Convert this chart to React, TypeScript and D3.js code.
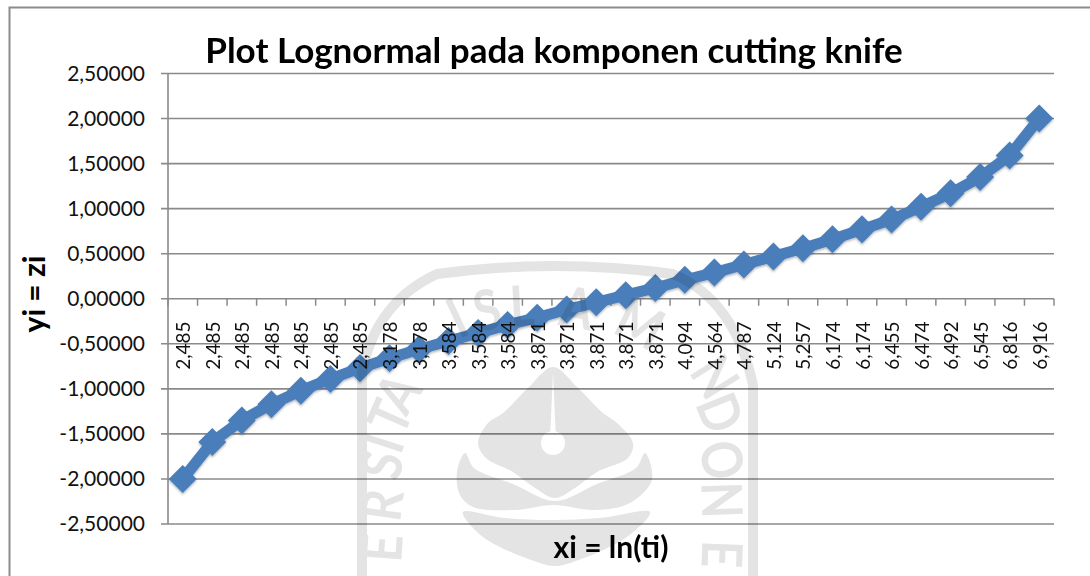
import React from "react";
import * as d3 from "d3";

const xLabels = ["2,485","2,485","2,485","2,485","2,485","2,485","2,485","3,178","3,178","3,584","3,584","3,584","3,871","3,871","3,871","3,871","3,871","4,094","4,564","4,787","5,124","5,257","6,174","6,174","6,455","6,474","6,492","6,545","6,816","6,916"];
const yValues = [-2.0,-1.59,-1.35,-1.17,-1.02,-0.89,-0.77,-0.66,-0.56,-0.47,-0.38,-0.29,-0.21,-0.12,-0.04,0.04,0.12,0.21,0.29,0.38,0.47,0.56,0.66,0.77,0.88,1.02,1.17,1.35,1.59,2.0];
const yTicks = [2.5,2,1.5,1,0.5,0,-0.5,-1,-1.5,-2,-2.5];
const titleText = "Plot Lognormal pada komponen cutting knife";
const xTitle = "xi = ln(ti)";
const yTitle = "yi = zi";

const FONT = "Lato, 'Open Sans', sans-serif";
const BLUE = "#4a7ebb";
const GRID = "#8a8a8a";
const WM = "#e4e4e4";

// Faint background logo: letter, centre x, centre y, rotation
const wmLetters: [string, number, number, number][] = [
  ["E",382,548,-86],["R",382,505,-82],["S",382,465,-78],["I",384,443,-72],["T",390,417,-66],["A",398,393,-58],
  ["I",457,318,-25],["S",487,310,-14],["L",522,306,-3],["A",577,308,10],["M",640,324,26],
  ["N",715,377,58],["D",720,413,68],["O",722,460,80],["N",722,500,88],["E",722,554,92],
];
const emblem: [number, number][] = [[553,367],[578,388],[603,413],[617,423],[633,443],[628,458],[597,472],[575,488],[555,498],[535,488],[513,472],[486,458],[478,443],[488,423],[503,413],[528,388]];
const crescent: [number, number][] = [[465,453],[457,472],[460,495],[473,507],[515,510],[553,505],[595,510],[630,503],[652,480],[645,453],[636,468],[597,484],[555,501],[513,484],[474,468]];
const lowerBand: [number, number][] = [[463,512],[483,537],[537,562],[555,566],[573,562],[627,537],[650,512],[600,518],[553,520],[505,518]];

export default function App() {
  const left = 168, right = 1054;
  const y = d3.scaleLinear().domain([-2.5, 2.5]).range([524, 73.5]);
  const x = d3.scaleBand<number>().domain(d3.range(xLabels.length)).range([left, right]);
  const cx = (i: number) => (x(i) as number) + x.bandwidth() / 2;
  const line = d3.line<number>().x((_, i) => cx(i)).y((d) => y(d));
  const blob = d3.line().curve(d3.curveCatmullRomClosed.alpha(0.5));
  const fmt = (v: number) => v.toFixed(5).replace(".", ",");
  const y0 = y(0);
  const ticksX = d3.range(xLabels.length + 1).map((i) => left + i * x.step());
  const diamond = d3.symbol(d3.symbolDiamond2, 500)() ?? "";
  return (
    <svg width={1090} height={576} style={{ position: "absolute", left: 0, top: 0, background: "#fff" }} fontFamily={FONT}>
      <defs>
        <filter id="sh" x="-30%" y="-30%" width="160%" height="160%">
          <feDropShadow dx="0" dy="1.5" stdDeviation="1.2" floodColor="#000" floodOpacity="0.3" />
        </filter>
      </defs>
      <rect x={9.5} y={7.5} width={1200} height={700} fill="#fff" stroke="#8c8c8c" strokeWidth={2} />

      {yTicks.map((t) => (
        <g key={t}>
          <line x1={161} x2={right} y1={y(t)} y2={y(t)} stroke={GRID} strokeWidth={1.6} />
          <text x={145} y={y(t) + 7} textAnchor="end" fontSize={21} fill="#111">{fmt(t)}</text>
        </g>
      ))}
      <line x1={left} x2={left} y1={y(2.5)} y2={y(-2.5)} stroke={GRID} strokeWidth={1.6} />
      {ticksX.map((tx, i) => (
        <line key={i} x1={tx} x2={tx} y1={y0} y2={y0 + 7} stroke={GRID} strokeWidth={1.5} />
      ))}
      <g filter="url(#sh)">
        <path d={line(yValues) ?? ""} fill="none" stroke={BLUE} strokeWidth={11} strokeLinejoin="round" />
        {yValues.map((v, i) => (
          <path key={i} d={diamond} transform={`translate(${cx(i)},${y(v)})`} fill={BLUE} />
        ))}
      </g>
      {xLabels.map((l, i) => (
        <text key={i} transform={`translate(${cx(i) + 7.5},${y0 + 71}) rotate(-90)`} fontSize={19} fill="#111">{l}</text>
      ))}
      <text x={554} y={63} textAnchor="middle" fontSize={35} fontWeight={700} fill="#000">{titleText}</text>
      <text x={611} y={558} textAnchor="middle" fontSize={30} fontWeight={700} fill="#000">{xTitle}</text>
      <text transform="translate(45,294) rotate(-90)" textAnchor="middle" fontSize={30} fontWeight={700} fill="#000">{yTitle}</text>

      <g style={{ mixBlendMode: "multiply" }}>
        <path d="M 362 576 L 362 372 Q 376 302 437 274 Q 555 258 673 274 Q 735 300 753 385 L 753 576" fill="none" stroke={WM} strokeWidth={10} />
        <path d={blob(emblem) ?? ""} fill={WM} />
        <circle cx={553} cy={443} r={12} fill="#fff" />
        <path d="M 553 372 L 550 440 L 556 440 Z" fill="#fff" />
        <path d={blob(crescent) ?? ""} fill={WM} />
        <path d={blob(lowerBand) ?? ""} fill={WM} />
        {wmLetters.map(([c, lx, ly, r], i) => (
          <text key={i} transform={`translate(${lx},${ly}) rotate(${r}) scale(0.85,1)`} y={20} textAnchor="middle" fontSize={56} fontWeight={700} fill={WM}>{c}</text>
        ))}
      </g>
    </svg>
  );
}
